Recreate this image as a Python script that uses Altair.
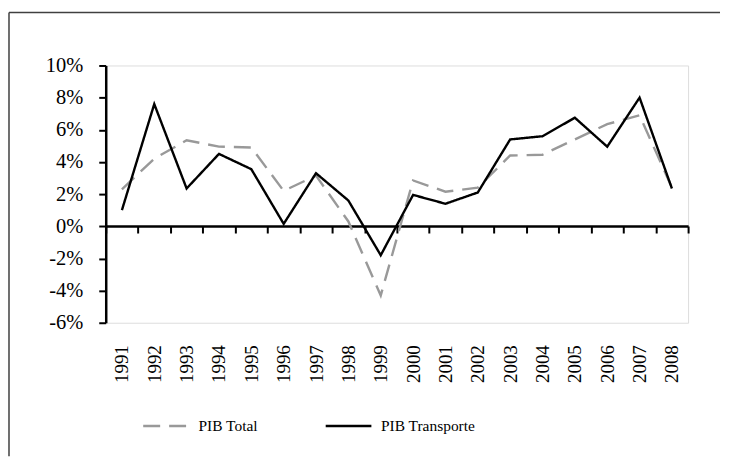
import altair as alt
import pandas as pd

years = [str(y) for y in range(1991, 2009)]
pib_total = [2.3, 4.2, 5.35, 4.95, 4.9, 2.2, 3.15, 0.3, -4.3, 2.85, 2.15, 2.4, 4.4, 4.45, 5.4, 6.35, 6.9, 2.4]
pib_transporte = [1.0, 7.6, 2.35, 4.5, 3.55, 0.15, 3.3, 1.6, -1.8, 1.95, 1.4, 2.1, 5.4, 5.6, 6.75, 4.95, 8.0, 2.35]
series_names = ["PIB Total", "PIB Transporte"]
y_ticks = [-6, -4, -2, 0, 2, 4, 6, 8, 10]

rows = []
for name, vals in zip(series_names, [pib_total, pib_transporte]):
    for yr, v in zip(years, vals):
        rows.append({"year": yr, "value": v, "serie": name})
df = pd.DataFrame(rows)

FONT = "Liberation Serif"
W, H = 584, 258

legend_cfg = dict(
    title=None,
    orient="none",
    legendX=36,
    legendY=337,
    direction="horizontal",
    symbolType="stroke",
    symbolSize=2100,
    symbolStrokeWidth=2.4,
    labelFont=FONT,
    labelFontSize=15.5,
    labelColor="black",
    labelOffset=8,
    columnPadding=62,
    padding=0,
)

lines = alt.Chart(df).mark_line(strokeWidth=2.4, strokeCap="butt").encode(
    x=alt.X(
        "year:O",
        sort=years,
        bandPosition=0.5,
        scale=alt.Scale(type="band", paddingInner=0, paddingOuter=0),
        axis=alt.Axis(
            title=None,
            orient="bottom",
            offset=-97,
            domainColor="black",
            domainWidth=2.5,
            tickColor="black",
            tickWidth=2,
            tickSize=7,
            tickBand="extent",
            labelAngle=270,
            labelPadding=112,
            labelFont=FONT,
            labelFontSize=19,
            labelColor="black",
            grid=False,
        ),
    ),
    y=alt.Y(
        "value:Q",
        scale=alt.Scale(domain=[-6, 10], nice=False, zero=False),
        axis=alt.Axis(
            title=None,
            values=y_ticks,
            labelExpr="datum.value + '%'",
            domainColor="black",
            domainWidth=2.5,
            tickColor="black",
            tickWidth=2,
            tickSize=7,
            labelPadding=16,
            labelFont=FONT,
            labelFontSize=20.5,
            labelColor="black",
            grid=False,
        ),
    ),
    color=alt.Color(
        "serie:N",
        scale=alt.Scale(domain=series_names, range=["#999999", "#000000"]),
        legend=alt.Legend(**legend_cfg),
    ),
    strokeDash=alt.StrokeDash(
        "serie:N",
        scale=alt.Scale(domain=series_names, range=[[17, 9], [1, 0]]),
        legend=alt.Legend(**legend_cfg),
    ),
    order=alt.Order("year:O"),
)

frame_data = alt.Data(values=[{}])
frame_left = alt.Chart(frame_data).mark_rule(color="#404040", strokeWidth=1.5).encode(
    x=alt.value(-97), y=alt.value(-53), y2=alt.value(392)
)
frame_top = alt.Chart(frame_data).mark_rule(color="#404040", strokeWidth=1.5).encode(
    x=alt.value(-97), x2=alt.value(616), y=alt.value(-53)
)

chart = alt.layer(frame_left, frame_top, lines).properties(
    width=W,
    height=H,
    padding={"left": 0, "top": 3, "right": 0, "bottom": 0},
).configure_view(stroke=None).configure(background="white")

chart.save("out.html", embed_options={"renderer": "svg", "actions": False})
